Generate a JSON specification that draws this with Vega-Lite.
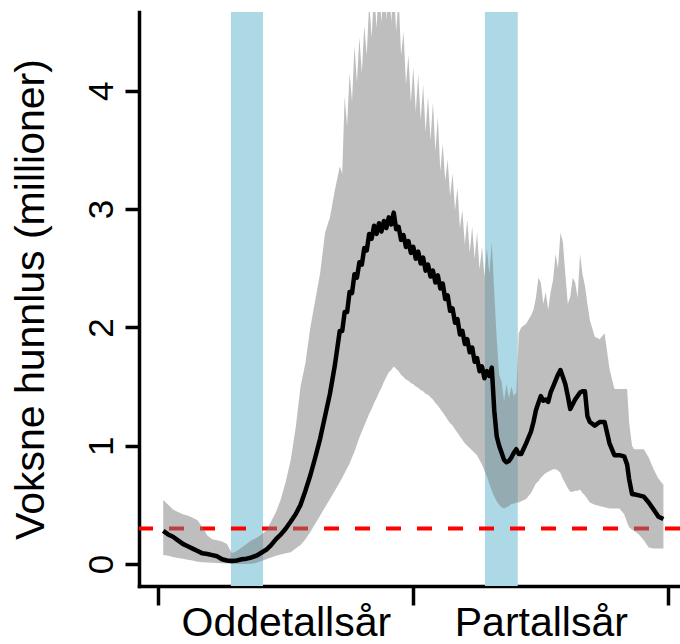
{
  "$schema": "https://vega.github.io/schema/vega-lite/v6.json",
  "width": 541,
  "height": 574,
  "autosize": {"type": "none"},
  "padding": {"left": 139, "top": 12, "right": 0, "bottom": 58},
  "config": {
    "view": {"stroke": null},
    "font": "Liberation Sans",
    "axis": {"grid": false, "domainColor": "black", "domainWidth": 3.5, "domainCap": "square", "tickColor": "black", "tickWidth": 3.5, "labelColor": "black", "titleColor": "black", "labelLimit": 0}
  },
  "datasets": {
    "bands": [{"start": 14.8, "end": 21.35}, {"start": 66.6, "end": 73.3}],
    "threshold": [{"level": 0.3}],
    "sim": [
      {"w": 1, "lo": 0.076, "m": 0.28, "hi": 0.54},
      {"w": 2, "lo": 0.07, "m": 0.25, "hi": 0.5},
      {"w": 3, "lo": 0.06, "m": 0.23, "hi": 0.46},
      {"w": 4, "lo": 0.05, "m": 0.2, "hi": 0.44},
      {"w": 5, "lo": 0.045, "m": 0.17, "hi": 0.42},
      {"w": 6, "lo": 0.035, "m": 0.15, "hi": 0.41},
      {"w": 7, "lo": 0.03, "m": 0.13, "hi": 0.39},
      {"w": 8, "lo": 0.02, "m": 0.11, "hi": 0.37},
      {"w": 9, "lo": 0.015, "m": 0.09, "hi": 0.31},
      {"w": 10, "lo": 0.012, "m": 0.085, "hi": 0.24},
      {"w": 11, "lo": 0.01, "m": 0.075, "hi": 0.21},
      {"w": 12, "lo": 0.008, "m": 0.065, "hi": 0.2},
      {"w": 13, "lo": 0.006, "m": 0.04, "hi": 0.19},
      {"w": 14, "lo": 0.004, "m": 0.03, "hi": 0.17},
      {"w": 15, "lo": 0.002, "m": 0.025, "hi": 0.09},
      {"w": 16, "lo": 0.001, "m": 0.03, "hi": 0.11},
      {"w": 17, "lo": 0.001, "m": 0.04, "hi": 0.14},
      {"w": 18, "lo": 0.001, "m": 0.045, "hi": 0.17},
      {"w": 19, "lo": 0.003, "m": 0.055, "hi": 0.2},
      {"w": 20, "lo": 0.01, "m": 0.07, "hi": 0.22},
      {"w": 21, "lo": 0.025, "m": 0.095, "hi": 0.25},
      {"w": 22, "lo": 0.04, "m": 0.12, "hi": 0.28},
      {"w": 23, "lo": 0.055, "m": 0.16, "hi": 0.36},
      {"w": 24, "lo": 0.07, "m": 0.21, "hi": 0.44},
      {"w": 25, "lo": 0.08, "m": 0.25, "hi": 0.55},
      {"w": 26, "lo": 0.09, "m": 0.3, "hi": 0.7},
      {"w": 27, "lo": 0.1, "m": 0.36, "hi": 0.88},
      {"w": 28, "lo": 0.13, "m": 0.42, "hi": 1.15},
      {"w": 29, "lo": 0.16, "m": 0.5, "hi": 1.5},
      {"w": 30, "lo": 0.21, "m": 0.62, "hi": 1.7},
      {"w": 31, "lo": 0.27, "m": 0.75, "hi": 2.0},
      {"w": 32, "lo": 0.34, "m": 0.9, "hi": 2.23},
      {"w": 33, "lo": 0.41, "m": 1.06, "hi": 2.46},
      {"w": 34, "lo": 0.48, "m": 1.25, "hi": 2.8},
      {"w": 35, "lo": 0.55, "m": 1.44, "hi": 2.93},
      {"w": 36, "lo": 0.62, "m": 1.68, "hi": 3.16},
      {"w": 37, "lo": 0.69, "m": 1.97, "hi": 3.36},
      {"w": 37.5, "lo": 0.73, "m": 1.97, "hi": 3.3},
      {"w": 38, "lo": 0.77, "m": 2.13, "hi": 3.95},
      {"w": 38.5, "lo": 0.81, "m": 2.13, "hi": 3.7},
      {"w": 39, "lo": 0.85, "m": 2.3, "hi": 4.15},
      {"w": 39.5, "lo": 0.9, "m": 2.29, "hi": 3.91},
      {"w": 40, "lo": 0.95, "m": 2.45, "hi": 4.38},
      {"w": 40.5, "lo": 1.01, "m": 2.42, "hi": 4.07},
      {"w": 41, "lo": 1.07, "m": 2.55, "hi": 4.45},
      {"w": 41.5, "lo": 1.12, "m": 2.53, "hi": 4.15},
      {"w": 42, "lo": 1.17, "m": 2.67, "hi": 4.55},
      {"w": 42.5, "lo": 1.22, "m": 2.65, "hi": 4.3},
      {"w": 43, "lo": 1.27, "m": 2.79, "hi": 4.75},
      {"w": 43.5, "lo": 1.31, "m": 2.75, "hi": 4.45},
      {"w": 44, "lo": 1.36, "m": 2.86, "hi": 4.85},
      {"w": 44.5, "lo": 1.4, "m": 2.79, "hi": 4.53},
      {"w": 45, "lo": 1.45, "m": 2.88, "hi": 4.9},
      {"w": 45.5, "lo": 1.49, "m": 2.81, "hi": 4.58},
      {"w": 46, "lo": 1.54, "m": 2.9, "hi": 4.95},
      {"w": 46.5, "lo": 1.58, "m": 2.84, "hi": 4.6},
      {"w": 47, "lo": 1.62, "m": 2.93, "hi": 4.95},
      {"w": 47.5, "lo": 1.64, "m": 2.87, "hi": 4.58},
      {"w": 48, "lo": 1.67, "m": 2.97, "hi": 4.9},
      {"w": 48.5, "lo": 1.65, "m": 2.83, "hi": 4.5},
      {"w": 49, "lo": 1.63, "m": 2.85, "hi": 4.8},
      {"w": 49.5, "lo": 1.6, "m": 2.74, "hi": 4.3},
      {"w": 50, "lo": 1.58, "m": 2.78, "hi": 4.5},
      {"w": 50.5, "lo": 1.56, "m": 2.68, "hi": 4.05},
      {"w": 51, "lo": 1.55, "m": 2.73, "hi": 4.3},
      {"w": 51.5, "lo": 1.53, "m": 2.63, "hi": 3.9},
      {"w": 52, "lo": 1.52, "m": 2.68, "hi": 4.2},
      {"w": 52.5, "lo": 1.5, "m": 2.58, "hi": 3.82},
      {"w": 53, "lo": 1.49, "m": 2.64, "hi": 4.14},
      {"w": 53.5, "lo": 1.47, "m": 2.54, "hi": 3.75},
      {"w": 54, "lo": 1.46, "m": 2.59, "hi": 4.05},
      {"w": 54.5, "lo": 1.44, "m": 2.48, "hi": 3.65},
      {"w": 55, "lo": 1.43, "m": 2.53, "hi": 3.95},
      {"w": 55.5, "lo": 1.41, "m": 2.43, "hi": 3.58},
      {"w": 56, "lo": 1.39, "m": 2.48, "hi": 3.9},
      {"w": 56.5, "lo": 1.36, "m": 2.38, "hi": 3.49},
      {"w": 57, "lo": 1.34, "m": 2.44, "hi": 3.78},
      {"w": 57.5, "lo": 1.31, "m": 2.33, "hi": 3.32},
      {"w": 58, "lo": 1.28, "m": 2.37, "hi": 3.55},
      {"w": 58.5, "lo": 1.25, "m": 2.24, "hi": 3.24},
      {"w": 59, "lo": 1.22, "m": 2.27, "hi": 3.42},
      {"w": 59.5, "lo": 1.19, "m": 2.14, "hi": 3.11},
      {"w": 60, "lo": 1.17, "m": 2.16, "hi": 3.3},
      {"w": 60.5, "lo": 1.14, "m": 2.04, "hi": 2.99},
      {"w": 61, "lo": 1.11, "m": 2.07, "hi": 3.18},
      {"w": 61.5, "lo": 1.08, "m": 1.94, "hi": 2.84},
      {"w": 62, "lo": 1.05, "m": 1.97, "hi": 2.99},
      {"w": 62.5, "lo": 1.02, "m": 1.86, "hi": 2.7},
      {"w": 63, "lo": 1.0, "m": 1.9, "hi": 2.91},
      {"w": 63.5, "lo": 0.98, "m": 1.79, "hi": 2.63},
      {"w": 64, "lo": 0.96, "m": 1.83, "hi": 2.85},
      {"w": 64.5, "lo": 0.94, "m": 1.71, "hi": 2.58},
      {"w": 65, "lo": 0.92, "m": 1.74, "hi": 2.8},
      {"w": 65.5, "lo": 0.88, "m": 1.63, "hi": 2.49},
      {"w": 66, "lo": 0.84, "m": 1.67, "hi": 2.68},
      {"w": 66.5, "lo": 0.79, "m": 1.57, "hi": 2.43},
      {"w": 67, "lo": 0.74, "m": 1.63, "hi": 2.67},
      {"w": 67.5, "lo": 0.68, "m": 1.59, "hi": 2.45},
      {"w": 68, "lo": 0.62, "m": 1.66, "hi": 2.72},
      {"w": 68.5, "lo": 0.57, "m": 1.3, "hi": 2.3},
      {"w": 69, "lo": 0.53, "m": 1.08, "hi": 1.9},
      {"w": 69.5, "lo": 0.5, "m": 1.0, "hi": 1.6},
      {"w": 70, "lo": 0.48, "m": 0.94, "hi": 1.54},
      {"w": 70.5, "lo": 0.47, "m": 0.88, "hi": 1.38},
      {"w": 71, "lo": 0.48, "m": 0.86, "hi": 1.52},
      {"w": 71.5, "lo": 0.49, "m": 0.87, "hi": 1.4},
      {"w": 72, "lo": 0.51, "m": 0.9, "hi": 1.5},
      {"w": 72.5, "lo": 0.51, "m": 0.94, "hi": 1.42},
      {"w": 73, "lo": 0.52, "m": 0.97, "hi": 1.45},
      {"w": 73.5, "lo": 0.52, "m": 0.93, "hi": 1.95},
      {"w": 74, "lo": 0.53, "m": 0.93, "hi": 2.0},
      {"w": 75, "lo": 0.55, "m": 1.02, "hi": 2.03},
      {"w": 76, "lo": 0.6, "m": 1.12, "hi": 2.1},
      {"w": 76.5, "lo": 0.64, "m": 1.2, "hi": 2.15},
      {"w": 77, "lo": 0.68, "m": 1.3, "hi": 2.25},
      {"w": 77.5, "lo": 0.7, "m": 1.36, "hi": 2.42},
      {"w": 78, "lo": 0.73, "m": 1.42, "hi": 2.38},
      {"w": 78.5, "lo": 0.75, "m": 1.38, "hi": 2.2},
      {"w": 79, "lo": 0.77, "m": 1.39, "hi": 2.3},
      {"w": 79.5, "lo": 0.78, "m": 1.37, "hi": 2.15},
      {"w": 80, "lo": 0.79, "m": 1.45, "hi": 2.3},
      {"w": 80.5, "lo": 0.8, "m": 1.5, "hi": 2.4},
      {"w": 81, "lo": 0.8, "m": 1.55, "hi": 2.62},
      {"w": 81.5, "lo": 0.79, "m": 1.6, "hi": 2.5},
      {"w": 82, "lo": 0.77, "m": 1.64, "hi": 2.8},
      {"w": 82.5, "lo": 0.72, "m": 1.58, "hi": 2.72},
      {"w": 83, "lo": 0.68, "m": 1.52, "hi": 2.45},
      {"w": 83.5, "lo": 0.64, "m": 1.42, "hi": 2.2},
      {"w": 84, "lo": 0.61, "m": 1.31, "hi": 2.26},
      {"w": 84.5, "lo": 0.61, "m": 1.35, "hi": 2.42},
      {"w": 85, "lo": 0.62, "m": 1.39, "hi": 2.38},
      {"w": 85.5, "lo": 0.62, "m": 1.42, "hi": 2.25},
      {"w": 86, "lo": 0.63, "m": 1.45, "hi": 2.62},
      {"w": 86.5, "lo": 0.6, "m": 1.46, "hi": 2.45},
      {"w": 87, "lo": 0.58, "m": 1.46, "hi": 2.35},
      {"w": 87.5, "lo": 0.55, "m": 1.25, "hi": 2.2},
      {"w": 88, "lo": 0.52, "m": 1.2, "hi": 2.06},
      {"w": 89, "lo": 0.5, "m": 1.17, "hi": 1.92},
      {"w": 90, "lo": 0.49, "m": 1.2, "hi": 1.9},
      {"w": 91, "lo": 0.48, "m": 1.2, "hi": 1.95},
      {"w": 92, "lo": 0.47, "m": 1.02, "hi": 1.65},
      {"w": 93, "lo": 0.47, "m": 0.92, "hi": 1.48},
      {"w": 94, "lo": 0.47, "m": 0.92, "hi": 1.48},
      {"w": 95, "lo": 0.42, "m": 0.91, "hi": 1.48},
      {"w": 95.6, "lo": 0.35, "m": 0.84, "hi": 1.48},
      {"w": 96, "lo": 0.31, "m": 0.72, "hi": 1.2},
      {"w": 96.6, "lo": 0.29, "m": 0.59, "hi": 1.0},
      {"w": 97, "lo": 0.28, "m": 0.59, "hi": 0.97},
      {"w": 98, "lo": 0.25, "m": 0.58, "hi": 0.97},
      {"w": 99, "lo": 0.2, "m": 0.57, "hi": 0.97},
      {"w": 100, "lo": 0.14, "m": 0.52, "hi": 0.9},
      {"w": 101, "lo": 0.13, "m": 0.46, "hi": 0.8},
      {"w": 102, "lo": 0.13, "m": 0.4, "hi": 0.72},
      {"w": 103, "lo": 0.13, "m": 0.38, "hi": 0.67}
    ]
  },
  "layer": [
    {
      "data": {"name": "bands"},
      "mark": {"type": "rect", "color": "#ADD8E6"},
      "encoding": {
        "x": {
          "field": "start", "type": "quantitative", "title": null,
          "scale": {"domain": [-3.94, 106.38], "nice": false, "zero": false},
          "axis": {
            "values": [0, 26, 52, 78, 104],
            "tickSize": 19,
            "tickOpacity": {"condition": {"test": "datum.value === 26 || datum.value === 78", "value": 0}, "value": 1},
            "labelExpr": "datum.value === 26 ? 'Oddetallsår' : datum.value === 78 ? 'Partallsår' : ''",
            "labelFontSize": 41,
            "labelBaseline": "alphabetic",
            "labelPadding": 30,
            "labelOverlap": false,
            "labelFlush": false,
            "labelBound": false,
            "labelLimit": 0
          }
        },
        "x2": {"field": "end"}
      }
    },
    {
      "data": {"name": "threshold"},
      "mark": {"type": "rule", "color": "#FF0000", "strokeWidth": 4, "strokeDash": [15, 16]},
      "encoding": {
        "y": {
          "field": "level", "type": "quantitative", "title": "Voksne hunnlus (millioner)",
          "scale": {"domain": [-0.186, 4.666], "nice": false, "zero": false},
          "axis": {
            "values": [0, 1, 2, 3, 4],
            "format": "d",
            "tickSize": 14,
            "labelAngle": 270,
            "labelAlign": "center",
            "labelBaseline": "alphabetic",
            "labelFontSize": 35,
            "labelPadding": 13,
            "titleFontSize": 41,
            "titleFontWeight": "normal",
            "titlePadding": 32
          }
        }
      }
    },
    {
      "data": {"name": "sim"},
      "mark": {"type": "area", "color": "#7E7E7E", "opacity": 0.5, "clip": true},
      "encoding": {
        "x": {"field": "w", "type": "quantitative", "title": null},
        "y": {"field": "lo", "type": "quantitative", "title": "Voksne hunnlus (millioner)"},
        "y2": {"field": "hi"}
      }
    },
    {
      "data": {"name": "sim"},
      "mark": {"type": "line", "color": "black", "strokeWidth": 4.5, "strokeJoin": "round"},
      "encoding": {
        "x": {"field": "w", "type": "quantitative", "title": null},
        "y": {"field": "m", "type": "quantitative", "title": "Voksne hunnlus (millioner)"}
      }
    },
    {
      "mark": {"type": "rule", "color": "black", "strokeWidth": 3.5},
      "encoding": {
        "y": {"datum": 4.666, "type": "quantitative", "title": "Voksne hunnlus (millioner)"}
      }
    }
  ]
}
